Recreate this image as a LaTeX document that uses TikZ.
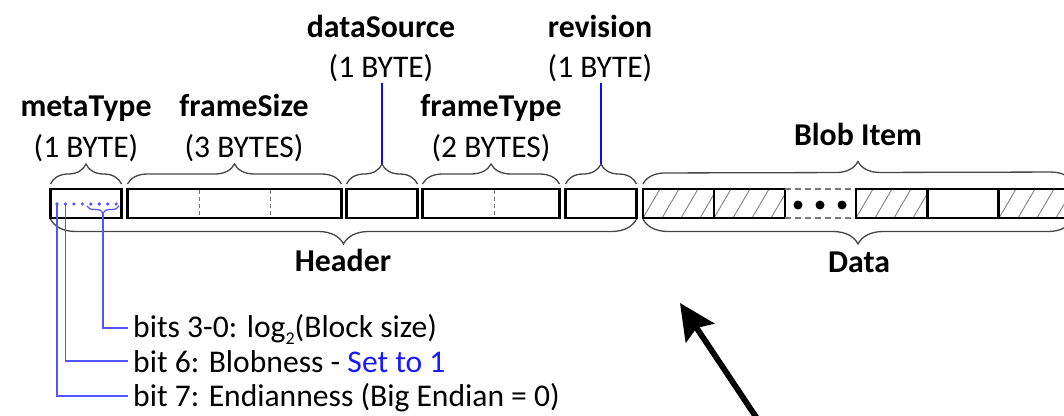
\documentclass[tikz,border=0pt]{standalone}
\usepackage{fontspec}
\setmainfont{Carlito}
\usetikzlibrary{decorations.pathreplacing,arrows.meta,calc}
\definecolor{lineblue}{RGB}{85,85,255}
\definecolor{darkblue}{RGB}{15,15,225}
\definecolor{setblue}{RGB}{25,25,255}
\definecolor{bracegray}{RGB}{70,70,70}
\definecolor{hatchgray}{RGB}{130,130,130}
\definecolor{dashgray}{RGB}{120,120,120}
\tikzset{
  field/.style={draw=black, line width=2.3pt, minimum height=29pt, inner sep=0pt, outer sep=0pt},
  lbl/.style={font=\fontsize{31.8}{36}\selectfont\bfseries, anchor=base, inner sep=0pt},
  sub/.style={font=\fontsize{31.5}{36}\selectfont, anchor=base, inner sep=0pt},
  note/.style={font=\fontsize{31.6}{36}\selectfont, anchor=base west, inner sep=0pt},
  brc/.style={decorate, decoration={brace, amplitude=#1}, draw=bracegray, line width=1.3pt},
  brc/.default=20pt,
  bluebrc/.style={decorate, decoration={brace, amplitude=7pt}, draw=lineblue, line width=1.3pt},
  bline/.style={draw=lineblue, line width=1.4pt},
  dline/.style={draw=darkblue, line width=1.3pt},
  hatch/.style={draw=hatchgray, line width=0.9pt},
  divider/.style={draw=dashgray, line width=1pt, dash pattern=on 4pt off 3pt},
  bitdot/.style={circle, fill=lineblue, inner sep=0pt, minimum size=3.6pt},
  bigdot/.style={circle, fill=black, inner sep=0pt, minimum size=9pt},
  bigarrow/.style={line width=5.8pt, -{Stealth[length=36pt, width=34pt, inset=6pt]}}
}
\begin{document}
\begin{tikzpicture}[x=1pt,y=-1pt]
\useasboundingbox (0,0) rectangle (1064,415);
\clip (0,0) rectangle (1064,415);

% ---------- hatching of data cells ----------
\foreach \xl in {643,714,856,999}{
  \begin{scope}
    \clip (\xl,189) rectangle ({\xl+71},218);
    \foreach \k in {-2,...,4}{
      \draw[hatch] ({\xl+\k*19},218) -- ({\xl+\k*19+17},189);
    }
  \end{scope}
}

% ---------- header fields ----------
\node[field, minimum width=71pt] (meta)  at (86,203.5) {};
\node[field, minimum width=214pt] (fsize) at (234.5,203.5) {};
\node[field, minimum width=71pt] (dsrc)  at (382,203.5) {};
\node[field, minimum width=137pt] (ftype) at (491,203.5) {};
\node[field, minimum width=71pt] (rev)   at (601,203.5) {};
\draw[divider] (199,190) -- (199,217);
\draw[divider] (270,190) -- (270,217);
\draw[divider] (494,190) -- (494,217);

% ---------- data cells ----------
\node[field, minimum width=71pt] (d1) at (678.5,203.5) {};
\node[field, minimum width=71pt] (d2) at (749.5,203.5) {};
\node[minimum width=71pt, minimum height=29pt, inner sep=0pt] (dd) at (820.5,203.5) {};
\draw[draw=dashgray, line width=2pt, dash pattern=on 6pt off 4pt] (dd.north west) -- (dd.north east);
\draw[draw=dashgray, line width=2pt, dash pattern=on 6pt off 4pt] (dd.south west) -- (dd.south east);
\node[bigdot] (e1) at (798,205) {};
\node[bigdot] (e2) at (820,205) {};
\node[bigdot] (e3) at (842,205) {};
\node[field, minimum width=71pt] (d3) at (891.5,203.5) {};
\node[field, minimum width=71pt] (d4) at (963,203.5) {};
\node[field, minimum width=71pt] (d5) at (1034.5,203.5) {};

% ---------- top braces ----------
\draw[brc] ($(meta.north west)+(0,-5)$) -- ($(meta.north east)+(0,-5)$);
\draw[brc] ($(fsize.north west)+(0,-5)$) -- ($(fsize.north east)+(0,-5)$);
\draw[brc] ($(dsrc.north west)+(0,-5)$) -- ($(dsrc.north east)+(0,-5)$);
\draw[brc] ($(ftype.north west)+(0,-5)$) -- ($(ftype.north east)+(0,-5)$);
\draw[brc] ($(rev.north west)+(0,-5)$) -- ($(rev.north east)+(0,-5)$);
\coordinate (blobR) at (1073,183);
\draw[brc=22pt] ($(d1.north west)+(0,-5)$) -- (blobR);

% ---------- bottom braces ----------
\draw[brc=25pt] ($(rev.south east)+(0,1)$) -- ($(meta.south west)+(0,1)$);
\coordinate (dataR) at (1073,219);
\draw[brc=25pt] (dataR) -- ($(d1.south west)+(0,1)$);

% ---------- labels ----------
\node[lbl] (metaL)  at (86,116) {metaType};
\node[sub] (metaS)  at (86,157) {(1 BYTE)};
\node[lbl] (fsizeL) at (244,116) {frameSize};
\node[sub] (fsizeS) at (244,157) {(3 BYTES)};
\node[lbl] (dsrcL)  at (381,37) {dataSource};
\node[sub] (dsrcS)  at (381,77) {(1 BYTE)};
\node[lbl] (ftypeL) at (491,116) {frameType};
\node[sub] (ftypeS) at (491,157) {(2 BYTES)};
\node[lbl] (revL)   at (600,37) {revision};
\node[sub] (revS)   at (600,77) {(1 BYTE)};
\node[lbl] (blobL)  at (858,145) {Blob Item};
\node[lbl] (headL)  at (343,271) {Header};
\node[lbl] (dataL)  at (859,272) {Data};

% blue leaders from labels to braces
\draw[dline] ($(dsrcS.south)+(1,1)$) -- ($(dsrc.north)+(0,-25)$);
\draw[dline] ($(revS.south)+(1,1)$) -- ($(rev.north)+(0,-25)$);

% ---------- bit dots ----------
\foreach \i in {0,...,7}{
  \node[bitdot] (bit\i) at ({57+\i*8.45},204) {};
}
\draw[bluebrc] (119,206) -- (87,206);
\coordinate (lowtip) at (103,213);

% ---------- notes ----------
\node[note] (t1) at (133,337) {bits 3-0: log\smash{\raisebox{-0.25em}{\fontsize{18}{20}\selectfont 2}}(Block size)};
\node[note] (t2) at (133,372) {bit 6: Blobness - \textcolor{setblue}{Set to 1}};
\node[note] (t3) at (133,406) {bit 7: Endianness (Big Endian = 0)};

\draw[bline] (lowtip) |- ($(t1.base west)+(-5,-9)$);
\draw[bline] (bit1.center) |- ($(t2.base west)+(-5,-11)$);
\draw[bline] (bit0.center) |- ($(t3.base west)+(-5,-10)$);

% ---------- big arrow ----------
\coordinate (atail) at (760,423);
\coordinate (ahead) at (680,303);
\draw[bigarrow] (atail) -- (ahead);
\end{tikzpicture}
\end{document}
